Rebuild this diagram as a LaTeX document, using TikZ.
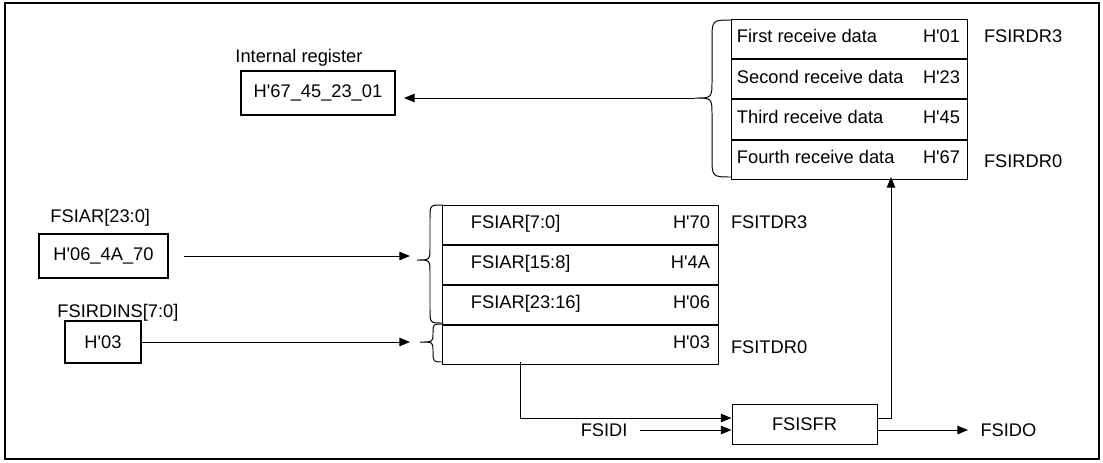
\documentclass[tikz,border=0pt]{standalone}
\usepackage{fontspec}
\setmainfont{Liberation Sans}
\usetikzlibrary{arrows.meta,positioning}
\newcommand\hx[1]{H\textquotesingle#1}

\begin{document}
\begin{tikzpicture}[x=0.025cm,y=-0.025cm,
  font=\fontsize{13}{15}\selectfont,
  line width=0.7pt,
  txt/.style={inner sep=0pt},
  regrow/.style={draw,minimum height=0.98cm,inner sep=0pt},
  valbox/.style={draw,line width=1.4pt,minimum height=1.1cm,inner sep=0pt},
  arr/.style={-{Triangle[length=7.5pt,width=6pt]}}]
\path[use as bounding box] (0,0) rectangle (1103,462);
\draw[line width=1.8pt] (5,3) rectangle (1099,459);

% receive side
\node[regrow,minimum width=5.875cm] (r1) at (849.5,39.1) {};
\node[regrow,minimum width=5.875cm,below=0cm of r1] (r2) {};
\node[regrow,minimum width=5.875cm,below=0cm of r2] (r3) {};
\node[regrow,minimum width=5.875cm,below=0cm of r3] (r4) {};
\node[txt,anchor=mid west] at ([xshift=0.125cm]r1.west) {First receive data};
\node[txt,anchor=mid west] at ([xshift=0.125cm]r2.west) {Second receive data};
\node[txt,anchor=mid west] at ([xshift=0.125cm]r3.west) {Third receive data};
\node[txt,anchor=mid west] at ([xshift=0.125cm]r4.west) {Fourth receive data};
\node[txt,anchor=mid east] at ([xshift=-0.175cm]r1.east) {\hx{01}};
\node[txt,anchor=mid east] at ([xshift=-0.175cm]r2.east) {\hx{23}};
\node[txt,anchor=mid east] at ([xshift=-0.175cm]r3.east) {\hx{45}};
\node[txt,anchor=mid east] at ([xshift=-0.175cm]r4.east) {\hx{67}};
\node[txt,anchor=mid west] (rdr3) at ([xshift=0.4cm]r1.east) {FSIRDR3};
\node[txt,anchor=mid west] (rdr0) at ([xshift=0.4cm,yshift=-0.1cm]r4.east) {FSIRDR0};
\draw (732,20) .. controls (712,20) .. (712,40) -- (712,80)
  .. controls (712,98) .. (695,98) .. controls (712,98) .. (712,116)
  -- (712,157) .. controls (712,177) .. (732,177);
\coordinate (rtip) at (695,98);
\coordinate (rin) at (891,177);

\node[txt,anchor=base west] at (235,62) {Internal register};
\node[valbox,minimum width=3.85cm] (ireg) at (318,93) {\hx{67\_45\_23\_01}};
\draw[arr,shorten >=0.2cm] (rtip) -- (rtip -| ireg.east);

% transmit side
\node[regrow,minimum width=6.875cm] (t1) at (580.5,224.6) {};
\node[regrow,minimum width=6.875cm,below=0cm of t1] (t2) {};
\node[regrow,minimum width=6.875cm,below=0cm of t2] (t3) {};
\node[regrow,minimum width=6.875cm,below=0cm of t3] (t4) {};
\node[txt,anchor=mid west] at ([xshift=0.7cm]t1.west) {FSIAR[7:0]};
\node[txt,anchor=mid west] at ([xshift=0.7cm]t2.west) {FSIAR[15:8]};
\node[txt,anchor=mid west] at ([xshift=0.7cm]t3.west) {FSIAR[23:16]};
\node[txt,anchor=mid east] at ([xshift=-0.2cm]t1.east) {\hx{70}};
\node[txt,anchor=mid east] at ([xshift=-0.2cm]t2.east) {\hx{4A}};
\node[txt,anchor=mid east] at ([xshift=-0.2cm]t3.east) {\hx{06}};
\node[txt,anchor=mid east] at ([xshift=-0.2cm]t4.east) {\hx{03}};
\node[txt,anchor=mid west] (tdr3) at ([xshift=0.3cm]t1.east) {FSITDR3};
\node[txt,anchor=mid west] (tdr0) at ([xshift=0.3cm,yshift=-0.125cm]t4.east) {FSITDR0};
\draw (443,205) .. controls (430,205) .. (430,218) -- (430,247)
  .. controls (430,260) .. (417,260) .. controls (430,260) .. (430,273)
  -- (430,310) .. controls (430,323) .. (443,323);
\draw (443,324) .. controls (433,324) .. (433,333)
  .. controls (433,342) .. (420,342) .. controls (433,342) .. (433,351)
  .. controls (433,362) .. (443,362);
\coordinate (ttipA) at (417,260);
\coordinate (ttipB) at (420,342);

\node[txt,anchor=base west] at (50,222) {FSIAR[23:0]};
\node[valbox,minimum width=3.225cm] (fsiar) at (103.5,256) {\hx{06\_4A\_70}};
\node[txt,anchor=base west] at (57,317) {FSIRDINS[7:0]};
\node[valbox,minimum width=1.9cm,minimum height=1.05cm] (fsirdins) at (103,342) {\hx{03}};
\draw[arr,shorten <=0.375cm,shorten >=0.175cm] (fsiar.east) -- (fsiar.east -| ttipA);
\draw[arr,shorten >=0.25cm] (fsirdins.east) -- (fsirdins.east -| ttipB);

% shift register
\node[draw,minimum width=3.625cm,minimum height=1cm,inner sep=0pt] (sfr) at (804.5,424) {FSISFR};
\node[txt,anchor=east] (fsidi) at (628,430) {FSIDI};
\node[txt,anchor=west] (fsido) at (980,430) {FSIDO};
\coordinate (tout) at (520,362);
\draw[arr] (tout) |- ([yshift=0.15cm]sfr.west);
\draw[arr,shorten <=0.3cm] (fsidi.east) -- (fsidi.east -| sfr.west);
\draw[arr,shorten >=0.3cm] ([yshift=-0.15cm]sfr.east) -- ([yshift=-0.15cm]sfr.east -| fsido.west);
\draw[arr] ([yshift=0.15cm]sfr.east) -| (rin);
\end{tikzpicture}
\end{document}
